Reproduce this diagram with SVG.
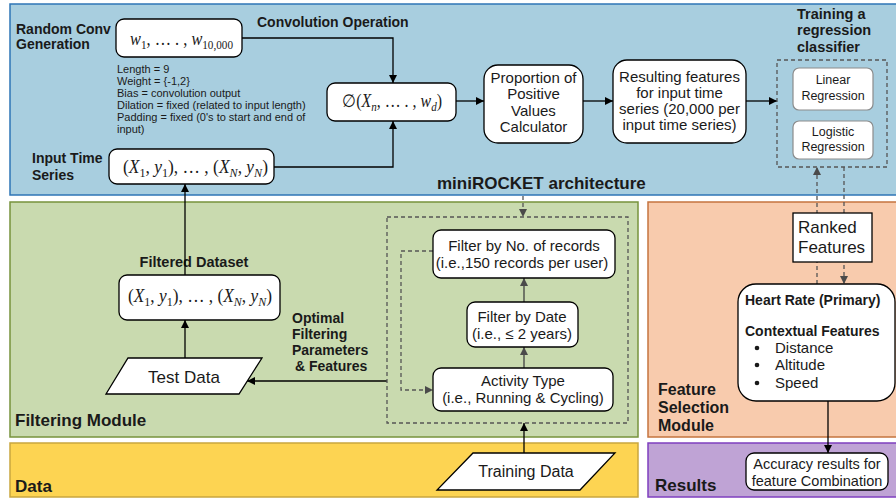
<svg xmlns="http://www.w3.org/2000/svg" width="896" height="500" viewBox="0 0 896 500">
<defs>
<style>
.s{font-family:"Liberation Sans",Arial,sans-serif;fill:#1a1a1a}
.b{font-family:"Liberation Sans",Arial,sans-serif;font-weight:bold;fill:#1a1a1a}
.m{font-family:"Liberation Serif","DejaVu Serif",serif;fill:#1a1a1a}
.i{font-style:italic}
.box{fill:#fff;stroke:#000;stroke-width:1.3}
.gbox{fill:#fff;stroke:#8c8c8c;stroke-width:1.2}
.c{fill:none;stroke:#000;stroke-width:1.3}
.cg{fill:none;stroke:#404040;stroke-width:1.3}
.d{fill:none;stroke:#555;stroke-width:1.3;stroke-dasharray:4 3}
</style>
<marker id="ah" viewBox="0 0 10 10" refX="10" refY="5" markerWidth="9" markerHeight="8" markerUnits="userSpaceOnUse" orient="auto"><path d="M0,0 L10,5 L0,10 z" fill="#000"/></marker>
<marker id="ahg" viewBox="0 0 10 10" refX="10" refY="5" markerWidth="9" markerHeight="8" markerUnits="userSpaceOnUse" orient="auto"><path d="M0,0 L10,5 L0,10 z" fill="#4a4a4a"/></marker>
</defs>

<!-- panels -->
<g id="panels">
<rect x="10" y="4" width="900" height="191" fill="#A8CEDF" stroke="#2E75B6" stroke-width="1.5"/>
<rect x="10" y="202" width="628" height="235" fill="#C9DAAF" stroke="#77933C" stroke-width="1.5"/>
<rect x="10" y="443" width="628" height="54" fill="#FDD452" stroke="#C9A63F" stroke-width="1.5"/>
<rect x="648" y="202" width="260" height="235" fill="#F8CBAD" stroke="#C5743F" stroke-width="1.5"/>
<rect x="648" y="443" width="260" height="54" fill="#BFA3D5" stroke="#7F3FBF" stroke-width="1.5"/>
</g>

<!-- panel labels -->
<g id="labels">
<text class="b" font-size="14" x="16" y="34">Random Conv</text>
<text class="b" font-size="14" x="16" y="49">Generation</text>
<text class="b" font-size="14" x="257" y="27">Convolution Operation</text>
<text class="b" font-size="14" x="32" y="163">Input Time</text>
<text class="b" font-size="14" x="32" y="180">Series</text>
<text class="b" font-size="17" x="437" y="189">miniROCKET architecture</text>
<text class="b" font-size="14.5" x="797" y="19">Training a</text>
<text class="b" font-size="14.5" x="797" y="35">regression</text>
<text class="b" font-size="14.5" x="797" y="52">classifier</text>
<text class="s" font-size="11" x="117" y="73">Length = 9</text>
<text class="s" font-size="11" x="117" y="85">Weight = {-1,2}</text>
<text class="s" font-size="11" x="117" y="97">Bias = convolution output</text>
<text class="s" font-size="11" x="117" y="109">Dilation = fixed (related to input length)</text>
<text class="s" font-size="11" x="117" y="121">Padding = fixed (0's to start and end of</text>
<text class="s" font-size="11" x="117" y="133">input)</text>
<text class="b" font-size="14.5" x="194" y="267" text-anchor="middle">Filtered Dataset</text>
<text class="b" font-size="14" x="292" y="323">Optimal</text>
<text class="b" font-size="14" x="292" y="339">Filtering</text>
<text class="b" font-size="14" x="292" y="355">Parameters</text>
<text class="b" font-size="14" x="295" y="371">&amp; Features</text>
<text class="b" font-size="17" x="15" y="426">Filtering Module</text>
<text class="b" font-size="17" x="15" y="492">Data</text>
<text class="b" font-size="16" x="658" y="395">Feature</text>
<text class="b" font-size="16" x="658" y="413">Selection</text>
<text class="b" font-size="16" x="658" y="431">Module</text>
<text class="b" font-size="17" x="655" y="491">Results</text>
</g>

<!-- connectors -->
<g id="connectors">
<path class="c" d="M242,38 H393 V83" marker-end="url(#ah)"/>
<path class="c" d="M274,167 H393 V121" marker-end="url(#ah)"/>
<path class="c" d="M456,101 H484" marker-end="url(#ah)"/>
<path class="c" d="M583,101 H613" marker-end="url(#ah)"/>
<path class="c" d="M746,101 H777" marker-end="url(#ah)"/>
<path class="d" d="M817,284 V167" marker-end="url(#ahg)"/>
<path class="d" d="M844,167 V284" marker-end="url(#ahg)"/>
<path class="c" d="M828,401 V453" marker-end="url(#ah)"/>
<path class="d" d="M523,196 V217" marker-end="url(#ahg)"/>
<path class="c" d="M185,275 V184" marker-end="url(#ah)"/>
<path class="c" d="M185,358 V320" marker-end="url(#ah)"/>
<path class="c" d="M387,381 H247" marker-end="url(#ah)"/>
<path class="c" d="M524,453 V423" marker-end="url(#ah)"/>
<path class="cg" d="M524,368 V347" marker-end="url(#ahg)"/>
<path class="cg" d="M524,302 V278" marker-end="url(#ahg)"/>
<path class="d" d="M433,251 H401 V390 H433" marker-end="url(#ahg)"/>
</g>

<!-- nodes -->
<g id="weights">
<rect class="box" x="116" y="19" width="126" height="38" rx="8"/>
<text class="m" font-size="19" x="130" y="45" textLength="103" lengthAdjust="spacingAndGlyphs"><tspan class="i">w</tspan><tspan font-size="13" dy="4">1</tspan><tspan dy="-4">, … . , </tspan><tspan class="i">w</tspan><tspan font-size="13" dy="4">10,000</tspan></text>
</g>
<g id="input-series">
<rect class="box" x="109" y="149" width="165" height="35" rx="8"/>
<text class="m" font-size="18" x="123" y="173" textLength="145" lengthAdjust="spacingAndGlyphs">(<tspan class="i">X</tspan><tspan font-size="12.5" dy="4">1</tspan><tspan dy="-4">, </tspan><tspan class="i">y</tspan><tspan font-size="12.5" dy="4">1</tspan><tspan dy="-4">), … , (</tspan><tspan class="i">X</tspan><tspan class="i" font-size="12.5" dy="4">N</tspan><tspan dy="-4">, </tspan><tspan class="i">y</tspan><tspan class="i" font-size="12.5" dy="4">N</tspan><tspan dy="-4">)</tspan></text>
</g>
<g id="conv">
<rect class="box" x="327" y="83" width="129" height="38" rx="8"/>
<text class="m" font-size="18" x="342" y="107" textLength="100" lengthAdjust="spacingAndGlyphs">∅(<tspan class="i">X</tspan><tspan class="i" font-size="12.5" dy="4">n</tspan><tspan dy="-4">, … . , </tspan><tspan class="i">w</tspan><tspan class="i" font-size="12.5" dy="4">d</tspan><tspan dy="-4">)</tspan></text>
</g>
<g id="proportion">
<rect class="box" x="484" y="65" width="99" height="78" rx="14"/>
<text class="s" font-size="15" x="533.5" text-anchor="middle"><tspan x="533.5" y="83">Proportion of</tspan><tspan x="533.5" y="99">Positive</tspan><tspan x="533.5" y="116">Values</tspan><tspan x="533.5" y="132">Calculator</tspan></text>
</g>
<g id="resulting">
<rect class="box" x="613" y="60" width="133" height="83" rx="14"/>
<text class="s" font-size="15" x="679.5" text-anchor="middle"><tspan x="679.5" y="82">Resulting features</tspan><tspan x="679.5" y="98">for input time</tspan><tspan x="679.5" y="114">series (20,000 per</tspan><tspan x="679.5" y="130">input time series)</tspan></text>
</g>
<g id="classifier">
<rect class="d" x="777" y="60" width="110" height="107"/>
</g>
<g id="linear">
<rect class="gbox" x="793" y="68" width="80" height="42" rx="6"/>
<text class="s" font-size="12.5" x="833" y="84" text-anchor="middle">Linear</text>
<text class="s" font-size="12.5" x="833" y="100" text-anchor="middle">Regression</text>
</g>
<g id="logistic">
<rect class="gbox" x="793" y="121" width="80" height="38" rx="6"/>
<text class="s" font-size="12.5" x="833" y="136" text-anchor="middle">Logistic</text>
<text class="s" font-size="12.5" x="833" y="151" text-anchor="middle">Regression</text>
</g>
<g id="ranked">
<rect class="box" x="793" y="213" width="79" height="49"/>
<text class="s" font-size="17" x="798" y="233">Ranked</text>
<text class="s" font-size="17" x="798" y="253">Features</text>
</g>
<g id="features">
<rect class="box" x="738" y="284" width="157" height="117" rx="18"/>
<text class="b" font-size="14" x="745" y="305">Heart Rate (Primary)</text>
<text class="b" font-size="14" x="745" y="336">Contextual Features</text>
<circle cx="757" cy="348" r="2.3" fill="#1a1a1a"/>
<circle cx="757" cy="365" r="2.3" fill="#1a1a1a"/>
<circle cx="757" cy="383" r="2.3" fill="#1a1a1a"/>
<text class="s" font-size="15" x="775" y="353">Distance</text>
<text class="s" font-size="15" x="775" y="370">Altitude</text>
<text class="s" font-size="15" x="775" y="388">Speed</text>
</g>
<g id="accuracy">
<rect class="box" x="746" y="453" width="142" height="37" rx="8"/>
<text class="s" font-size="14.5" x="817" y="469" text-anchor="middle">Accuracy results for</text>
<text class="s" font-size="14.5" x="817" y="486" text-anchor="middle">feature Combination</text>
</g>
<g id="filtered">
<rect class="box" x="119" y="275" width="161" height="45" rx="8"/>
<text class="m" font-size="18" x="128" y="302" textLength="144" lengthAdjust="spacingAndGlyphs">(<tspan class="i">X</tspan><tspan font-size="12.5" dy="4">1</tspan><tspan dy="-4">, </tspan><tspan class="i">y</tspan><tspan font-size="12.5" dy="4">1</tspan><tspan dy="-4">), … , (</tspan><tspan class="i">X</tspan><tspan class="i" font-size="12.5" dy="4">N</tspan><tspan dy="-4">, </tspan><tspan class="i">y</tspan><tspan class="i" font-size="12.5" dy="4">N</tspan><tspan dy="-4">)</tspan></text>
</g>
<g id="test-data">
<polygon class="box" points="128,358 262,358 239,394 106,394"/>
<text class="s" font-size="17" x="184" y="383" text-anchor="middle">Test Data</text>
</g>
<g id="filter-group">
<rect class="d" x="387" y="217" width="241" height="206"/>
</g>
<g id="filter-records">
<rect class="box" x="433" y="230" width="182" height="48" rx="8"/>
<text class="s" font-size="15" x="524" y="251" text-anchor="middle">Filter by No. of records</text>
<text class="s" font-size="15" x="522" y="268" text-anchor="middle">(i.e.,150 records per user)</text>
</g>
<g id="filter-date">
<rect class="box" x="467" y="302" width="111" height="45" rx="8"/>
<text class="s" font-size="15" x="522" y="322" text-anchor="middle">Filter by Date</text>
<text class="s" font-size="15" x="522" y="339" text-anchor="middle">(i.e., ≤ 2 years)</text>
</g>
<g id="activity">
<rect class="box" x="433" y="368" width="180" height="43" rx="8"/>
<text class="s" font-size="15" x="523" y="386" text-anchor="middle">Activity Type</text>
<text class="s" font-size="15" x="523" y="403" text-anchor="middle">(i.e., Running &amp; Cycling)</text>
</g>
<g id="training-data">
<polygon class="box" points="473,453 615,453 580,490 437,490"/>
<text class="s" font-size="16" x="526" y="477" text-anchor="middle">Training Data</text>
</g>
</svg>
